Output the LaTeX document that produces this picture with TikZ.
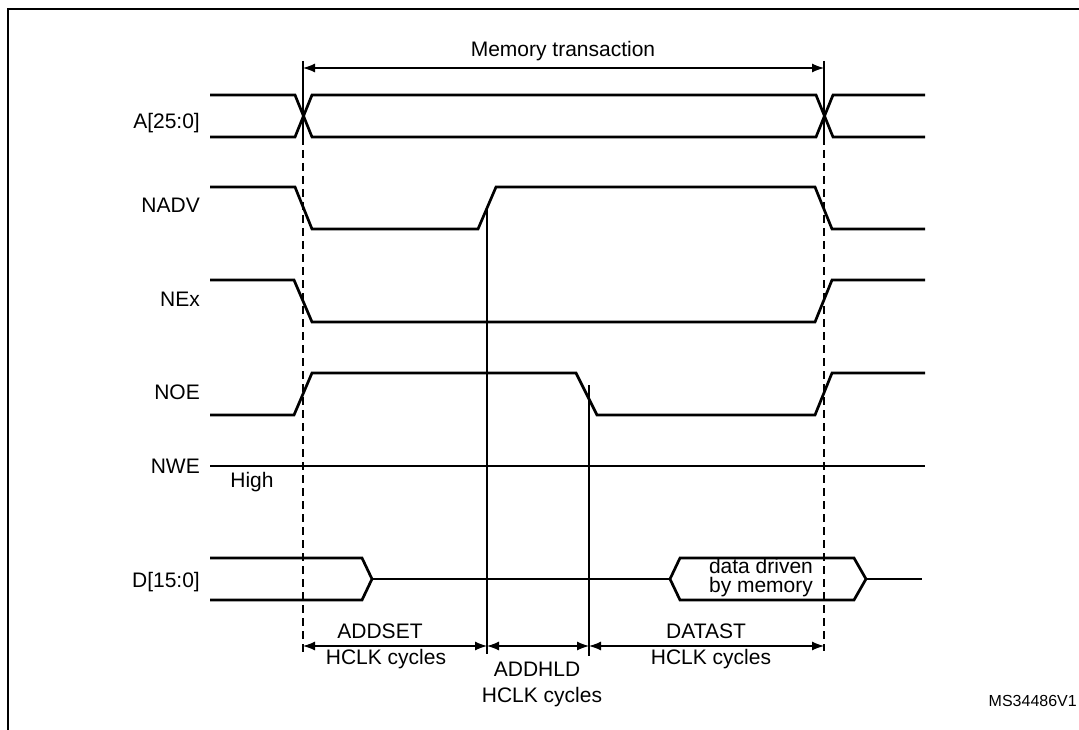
\documentclass[tikz,border=0pt]{standalone}
\usepackage{fontspec}
\setmainfont{Liberation Sans}
\usetikzlibrary{arrows.meta}
\begin{document}
\begin{tikzpicture}[x=1pt,y=-1pt,
  sig/.style={line width=2.7pt},
  thinline/.style={line width=1.2pt},
  guide/.style={line width=1.2pt, dash pattern=on 8pt off 5pt},
  dim/.style={line width=1.2pt, {Latex[length=12pt,width=9pt]}-{Latex[length=12pt,width=9pt]}},
  lbl/.style={font=\fontsize{21}{24}\selectfont, inner sep=0pt, anchor=base},
  sname/.style={lbl, anchor=base east}]
\useasboundingbox (0,0) rectangle (1079,730);
% frame (cut off at right and bottom)
\draw[line width=2.8pt] (8,745) -- (8,9) -- (1095,9);

% key time marks
\coordinate (tA) at (303,61);  \coordinate (xA) at (303,137); \coordinate (gA) at (303,655);
\coordinate (tB) at (824,61);  \coordinate (xB) at (824,137); \coordinate (gB) at (824,651);
\coordinate (h1) at (487,208); \coordinate (h1b) at (487,654);
\coordinate (h2) at (589,385); \coordinate (h2b) at (589,656);
\coordinate (mL) at (303,68);  \coordinate (mR) at (824,68);
\coordinate (a0) at (303,646); \coordinate (a1) at (487,646);
\coordinate (a2) at (589,646); \coordinate (a3) at (824,646);

% guide lines
\draw[thinline] (tA) -- (xA);
\draw[guide] (xA) -- (gA);
\draw[thinline] (tB) -- (xB);
\draw[guide] (xB) -- (gB);
\draw[thinline] (h1) -- (h1b);
\draw[thinline] (h2) -- (h2b);

% dimension arrows
\draw[dim] (mL) -- (mR);
\draw[dim] (a0) -- (a1);
\draw[dim] (a1) -- (a2);
\draw[dim] (a2) -- (a3);

% signals
% A[25:0]
\draw[sig] (210,95) -- (295,95) -- (312,137) -- (816,137) -- (833,95) -- (925,95);
\draw[sig] (210,137) -- (295,137) -- (312,95) -- (816,95) -- (833,137) -- (925,137);
% NADV
\draw[sig] (210,187) -- (295,187) -- (312,229) -- (478,229) -- (496,187) -- (815,187) -- (832,229) -- (925,229);
% NEx
\draw[sig] (210,280) -- (294,280) -- (312,322) -- (815,322) -- (832,280) -- (925,280);
% NOE
\draw[sig] (210,415) -- (294,415) -- (312,373) -- (576,373) -- (597,415) -- (815,415) -- (832,373) -- (925,373);
% NWE
\draw[sig] (210,466) -- (925,466);
% D[15:0]
\draw[sig] (210,558) -- (362,558) -- (372,579) -- (362,600) -- (210,600);
\draw[sig] (372,579) -- (670,579);
\draw[sig] (670,579) -- (680,558) -- (854,558) -- (866,579) -- (854,600) -- (680,600) -- cycle;
\draw[sig] (866,579) -- (922,579);

% signal names
\node[sname] (nA)    at (200,129) {A[25:0]};
\node[sname] (nNADV) at (200,213) {NADV};
\node[sname] (nNEx)  at (200,306) {NEx};
\node[sname] (nNOE)  at (200,399) {NOE};
\node[sname] (nNWE)  at (200,473) {NWE};
\node[lbl]   (nHigh) at (252,487) {High};
\node[sname] (nD)    at (200,587) {D[15:0]};

% annotations
\node[lbl] (tMem)  at (563,57)  {Memory transaction};
\node[lbl] (tAS1)  at (380,638) {ADDSET};
\node[lbl] (tAS2)  at (386,664) {HCLK cycles};
\node[lbl] (tAH1)  at (537,676) {ADDHLD};
\node[lbl] (tAH2)  at (542,702) {HCLK cycles};
\node[lbl] (tDS1)  at (706,638) {DATAST};
\node[lbl] (tDS2)  at (711,664) {HCLK cycles};
\node[font=\fontsize{21}{19.5}\selectfont, inner sep=0pt, align=center, anchor=north] (tDat) at (761,558) {data driven\\by memory};
\node[font=\fontsize{16}{18}\selectfont, inner sep=0pt, anchor=base east] (tRef) at (1077,706) {MS34486V1};
\end{tikzpicture}
\end{document}
